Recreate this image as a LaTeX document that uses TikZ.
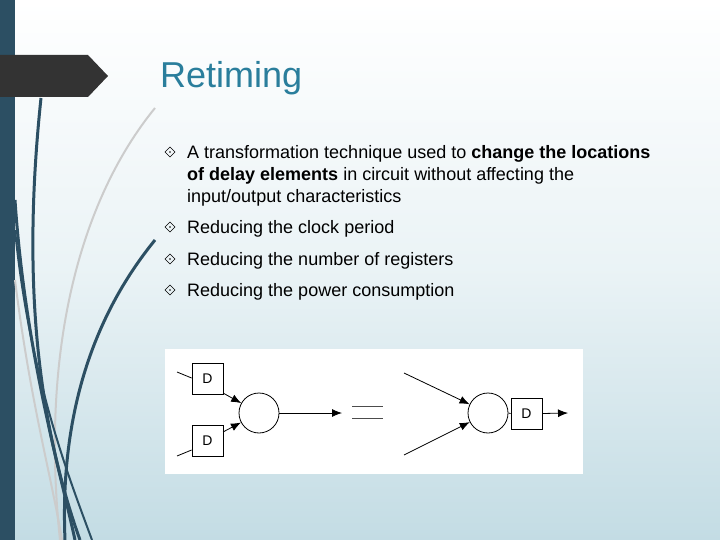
\documentclass[tikz,border=0pt]{standalone}
\usepackage{fontspec}
\setmainfont{Liberation Sans}
\usetikzlibrary{arrows.meta}
\definecolor{barc}{HTML}{2C4F63}
\definecolor{titc}{HTML}{2A7E9C}
\definecolor{bgb}{HTML}{C3DCE4}
\begin{document}
\begin{tikzpicture}[x=1pt,y=-1pt,
 txt/.style={anchor=north west,inner sep=0,font=\fontsize{18}{22}\selectfont,align=left},
 dbox/.style={draw,line width=0.8pt,minimum size=31pt,inner sep=0,font=\fontsize{14}{14}\selectfont},
 op/.style={draw,line width=0.8pt,circle,minimum size=40pt,inner sep=0},
 arr/.style={-{Latex[length=10pt,width=8pt]},line width=0.8pt},
 curve/.style={barc,line width=3pt}]
\useasboundingbox (0,0) rectangle (720,540);
\shade[top color=white,bottom color=bgb,middle color=bgb!35] (0,0) rectangle (720,540);
\fill[barc] (0,0) rectangle (15,540);
% curves
\draw[gray!40,line width=2pt] (155,108) .. controls (80,200) and (40,350) .. (60,540);
\draw[gray!40,line width=2pt] (15,280) .. controls (30,400) and (50,470) .. (62,540);
\draw[curve] (41,98) .. controls (25,250) and (30,400) .. (80,540);
\draw[curve] (15,200) .. controls (25,350) and (60,470) .. (75,540);
\draw[curve] (155,240) .. controls (90,320) and (60,420) .. (65,540);
\draw[curve,line width=2pt] (15,230) .. controls (30,380) and (70,480) .. (92,540);
\fill[black!80] (0,55) -- (88,55) -- (108,76) -- (88,97) -- (0,97) -- cycle;
\node[anchor=west,inner sep=0,titc,font=\fontsize{36}{36}\selectfont] (title) at (160,78) {Retiming};
% bullets
\foreach \y in {152,227,259,290}{
 \draw[line width=0.6pt] (170,\y-5) -- (175,\y) -- (170,\y+5) -- (165,\y) -- cycle;
 \fill (170,\y) circle (0.9pt);}
\node[txt] (t1) at (187,145) {A transformation technique used to \textbf{change the locations}\\\textbf{of delay elements} in circuit without affecting the\\input/output characteristics};
\node[txt] (t2) at (187,220) {Reducing the clock period};
\node[txt] (t3) at (187,252) {Reducing the number of registers};
\node[txt] (t4) at (187,283) {Reducing the power consumption};
% diagram
\fill[white] (165,349) rectangle (583,474);
\node[dbox] (d1) at (207.5,378.5) {D};
\node[dbox] (d2) at (207.5,440.5) {D};
\node[op] (c1) at (259,413) {};
\coordinate (i1) at (177,372);
\coordinate (i2) at (177,456);
\coordinate (o1) at (342,413);
\draw[line width=0.8pt] (i1) -- (d1.west|-0,378);
\draw[line width=0.8pt] (i2) -- (d2.west|-0,450);
\draw[arr] (223,393) -- (c1);
\draw[arr] (223,432) -- (c1);
\draw[arr] (c1.east) -- (o1);
\draw[line width=1pt,gray!60!black] (352,406) -- (383,406) (352,418) -- (383,418);
\node[op] (c2) at (488,413) {};
\node[dbox] (d3) at (526.5,413.5) {D};
\coordinate (j1) at (404,373);
\coordinate (j2) at (404,455);
\coordinate (o2) at (568,413);
\draw[arr] (j1) -- (c2);
\draw[arr] (j2) -- (c2);
\draw[line width=0.8pt] (c2.east) -- (d3.west);
\draw[arr] (d3.east) -- (o2);
\end{tikzpicture}
\end{document}
